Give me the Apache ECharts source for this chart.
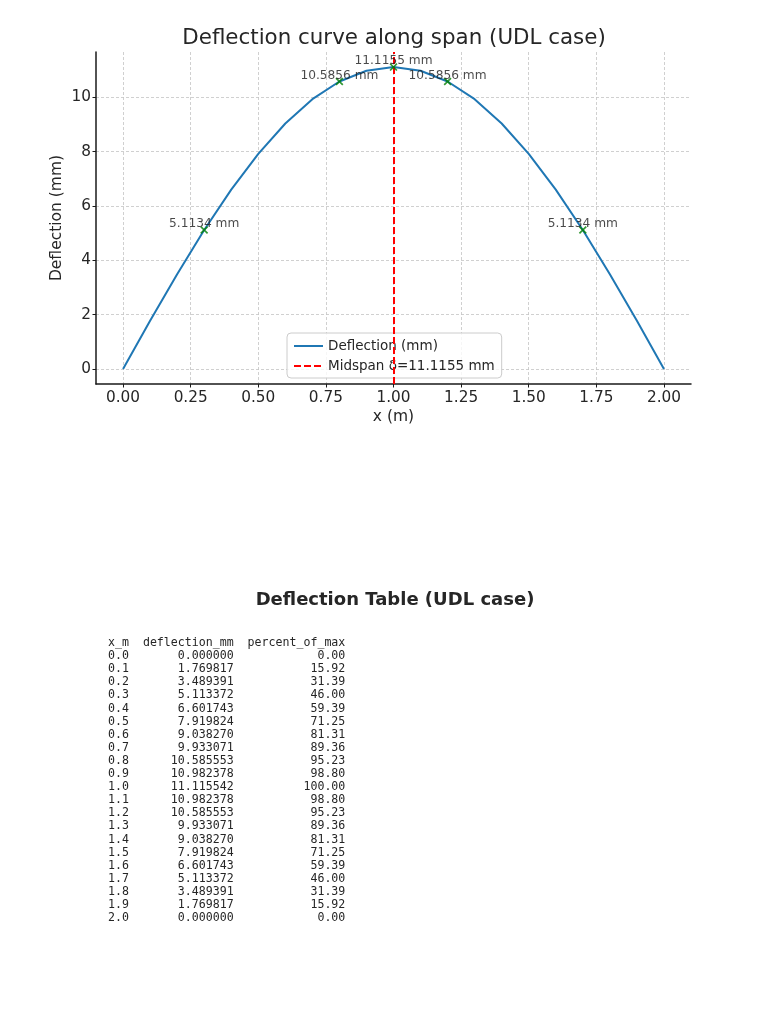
<!DOCTYPE html>
<html>
<head>
<meta charset="utf-8">
<script src="https://cdn.jsdelivr.net/npm/echarts@6/dist/echarts.min.js"></script>
<style>
html,body{margin:0;padding:0;background:#fff;}
#chart{width:768px;height:1024px;}
</style>
</head>
<body>
<div id="chart"></div>
<script>
// ---- data ----
const xValues = [0.0,0.1,0.2,0.3,0.4,0.5,0.6,0.7,0.8,0.9,1.0,1.1,1.2,1.3,1.4,1.5,1.6,1.7,1.8,1.9,2.0];
const deflection = [0.000000,1.769817,3.489391,5.113372,6.601743,7.919824,9.038270,9.933071,10.585553,10.982378,11.115542,10.982378,10.585553,9.933071,9.038270,7.919824,6.601743,5.113372,3.489391,1.769817,0.000000];
const percentOfMax = [0.00,15.92,31.39,46.00,59.39,71.25,81.31,89.36,95.23,98.80,100.00,98.80,95.23,89.36,81.31,71.25,59.39,46.00,31.39,15.92,0.00];
const annotatedX = [0.3,0.8,1.0,1.2,1.7];
const midspanX = 1.0;
const midspanDeflection = 11.115542;
const xTicks = [0,0.25,0.5,0.75,1.0,1.25,1.5,1.75,2.0];
const yTicks = [0,2,4,6,8,10];
const xRange = [-0.1, 2.1];
const yRange = [-0.5558, 11.6713];
const tableHeader = ['x_m','deflection_mm','percent_of_max'];

// ---- build ----
const FONT = 'DejaVu Sans';
const TXT = '#262626';
const lineData = xValues.map((x,i)=>[x, deflection[i]]);
const markData = annotatedX.map(ax => {
  const i = xValues.findIndex(v => Math.abs(v-ax) < 1e-9);
  return [xValues[i], deflection[i]];
});

function padL(s,n){ s=String(s); while(s.length<n) s=' '+s; return s; }
const w0 = tableHeader[0].length, w1 = tableHeader[1].length, w2 = tableHeader[2].length;
const tableLines = [tableHeader.join('  ')];
xValues.forEach((x,i)=>{
  tableLines.push(padL(x.toFixed(1),w0)+'  '+padL(deflection[i].toFixed(6),w1)+'  '+padL(percentOfMax[i].toFixed(2),w2));
});
const tableGraphics = tableLines.map((line,i)=>({
  type:'text', left:108, top: 637 + i*13.1,
  style:{text:line, font:'11.6px "DejaVu Sans Mono"', fill:TXT}
}));

const xPath = 'path://M1.5,0 L5,3.5 L8.5,0 L10,1.5 L6.5,5 L10,8.5 L8.5,10 L5,6.5 L1.5,10 L0,8.5 L3.5,5 L0,1.5 Z';
const midName = 'Midspan δ=' + midspanDeflection.toFixed(4) + ' mm';

const chart = echarts.init(document.getElementById('chart'));
chart.setOption({
  animation:false,
  backgroundColor:'#fff',
  textStyle:{fontFamily:FONT},
  title:[
    {text:'Deflection curve along span (UDL case)', left:389, top:23, textAlign:'center',
     textStyle:{fontSize:21.4, fontWeight:'normal', color:TXT, fontFamily:FONT}},
    {text:'Deflection Table (UDL case)', left:390, top:586, textAlign:'center',
     textStyle:{fontSize:18, fontWeight:'bold', color:TXT, fontFamily:FONT}}
  ],
  grid:{left:96, right:77, top:52, height:332, containLabel:false},
  legend:{
    orient:'vertical', left:287, top:333,
    data:['Deflection (mm)', midName],
    itemWidth:29, itemHeight:12, itemGap:6,
    itemStyle:{opacity:0},
    padding:[6,7,5,6],
    backgroundColor:'rgba(255,255,255,0.8)',
    borderColor:'#cccccc', borderWidth:1, borderRadius:4,
    textStyle:{fontSize:13.5, color:TXT, fontFamily:FONT}
  },
  xAxis:{
    type:'value', min:xRange[0], max:xRange[1],
    name:'x (m)', nameLocation:'middle', nameGap:25, nameMoveOverlap:false,
    nameTextStyle:{fontSize:15.5, color:TXT, fontFamily:FONT},
    axisLine:{onZero:false, lineStyle:{color:'#1a1a1a', width:1.5}},
    axisTick:{show:true, length:3.5, customValues:xTicks, lineStyle:{color:'#1a1a1a'}},
    axisLabel:{customValues:xTicks, margin:7, fontSize:15.3, color:TXT, fontFamily:FONT,
      formatter:v=>v.toFixed(2)},
    splitLine:{show:true, lineStyle:{color:'#c4c4c4', width:0.8, type:[3,2]}}
  },
  yAxis:{
    type:'value', min:yRange[0], max:yRange[1],
    name:'Deflection (mm)', nameLocation:'middle', nameGap:31, nameMoveOverlap:false,
    nameTextStyle:{fontSize:15.5, color:TXT, fontFamily:FONT},
    axisLine:{show:true, onZero:false, lineStyle:{color:'#1a1a1a', width:1.5}},
    axisTick:{show:true, length:3.5, customValues:yTicks, lineStyle:{color:'#1a1a1a'}},
    axisLabel:{customValues:yTicks, margin:5, fontSize:15.3, color:TXT, fontFamily:FONT},
    splitLine:{show:true, lineStyle:{color:'#c4c4c4', width:0.8, type:[3,2]}}
  },
  series:[
    {
      name:'Deflection (mm)', type:'line', data:lineData, symbol:'none', showSymbol:false, smooth:false,
      lineStyle:{color:'#1f77b4', width:2}, itemStyle:{color:'#1f77b4'}, z:3
    },
    {
      name:midName, type:'line', data:[], symbol:'none', showSymbol:false,
      lineStyle:{color:'#ff0000', width:2, type:[7,3]}, itemStyle:{color:'#ff0000'},
      markLine:{silent:true, symbol:['none','none'], label:{show:false},
        lineStyle:{color:'#ff0000', width:2, type:[7,3]},
        data:[{xAxis:midspanX}]}, z:4
    },
    {
      name:'marks', type:'scatter', data:markData, symbol:xPath, symbolSize:8,
      itemStyle:{color:'#008000'}, z:5,
      label:{show:true, position:'top', distance:-4, fontSize:12.2, color:'#1a1a1a', fontFamily:FONT,
        formatter:p=>p.value[1].toFixed(4)+' mm'}
    }
  ],
  graphic:tableGraphics
});
</script>
</body>
</html>
